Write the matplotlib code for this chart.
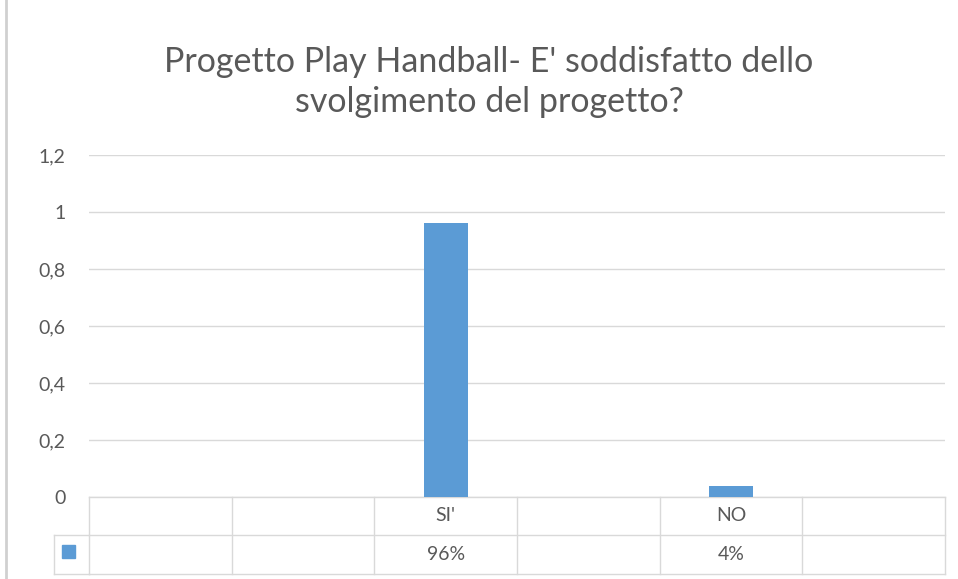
import numpy as np
import matplotlib.pyplot as plt
import matplotlib.transforms as mtransforms
from matplotlib.lines import Line2D
from matplotlib.patches import Rectangle

# data
categories = ["", "", "SI'", "", "NO", ""]
values = [None, None, 0.96, None, 0.04, None]
value_labels = ["", "", "96%", "", "4%", ""]
yticks = [0, 0.2, 0.4, 0.6, 0.8, 1.0, 1.2]
ytick_labels = ["0", "0,2", "0,4", "0,6", "0,8", "1", "1,2"]
title = "Progetto Play Handball- E' soddisfatto dello\nsvolgimento del progetto?"

plt.rcParams['font.family'] = ['Lato', 'DejaVu Sans']

blue = "#5b9bd5"
grid = "#d9d9d9"
txt = "#595959"

W, H = 958, 579
fig = plt.figure(figsize=(W / 100, H / 100), dpi=100)
ax = fig.add_axes([89 / W, (H - 497) / H, (945 - 89) / W, (497 - 155) / H])

x = np.arange(len(categories))
xs = [i for i, v in zip(x, values) if v is not None]
vs = [v for v in values if v is not None]
ax.bar(xs, vs, width=0.31, color=blue, zorder=3)

ax.set_xlim(-0.5, len(categories) - 0.5)
ax.set_ylim(0, 1.2)
ax.set_yticks(yticks)
ax.set_yticklabels(ytick_labels, color=txt, fontsize=14)
ax.tick_params(axis='y', length=0, pad=17)
ax.set_xticks([])
ax.grid(axis='y', color=grid, linewidth=1, zorder=0)
for s in ax.spines.values():
    s.set_visible(False)

# data table below the plot
tr = mtransforms.blended_transform_factory(ax.transData, ax.transAxes)
row1 = -0.111
row2 = -0.225
for yy in [0, row1, row2]:
    ax.add_line(Line2D([-0.5, len(categories) - 0.5], [yy, yy], transform=tr,
                       color=grid, lw=1, clip_on=False))
for i in range(len(categories) + 1):
    ax.add_line(Line2D([i - 0.5, i - 0.5], [0, row2], transform=tr,
                       color=grid, lw=1, clip_on=False))
for i, (c, v) in enumerate(zip(categories, value_labels)):
    ax.text(i, row1 / 2, c, transform=tr, ha='center', va='center',
            color=txt, fontsize=14)
    ax.text(i, (row1 + row2) / 2, v, transform=tr, ha='center', va='center',
            color=txt, fontsize=14)

# legend key column
fig.add_artist(Line2D([54 / W, 89 / W], [(H - 535) / H, (H - 535) / H], color=grid, lw=1))
fig.add_artist(Line2D([54 / W, 89 / W], [(H - 574) / H, (H - 574) / H], color=grid, lw=1))
fig.add_artist(Line2D([54 / W, 54 / W], [(H - 535) / H, (H - 574) / H], color=grid, lw=1))
fig.add_artist(Rectangle((62 / W, (H - 558) / H), 13 / W, 13 / H, color=blue))

# chart border on the left
fig.add_artist(Line2D([6 / W, 6 / W], [0, 1], color="#d0d0d0", lw=2))

fig.text(489 / W, (H - 82) / H, title, ha='center', va='center', color=txt,
         fontsize=24.5, linespacing=1.3)

fig.savefig("out.png", dpi=100)
